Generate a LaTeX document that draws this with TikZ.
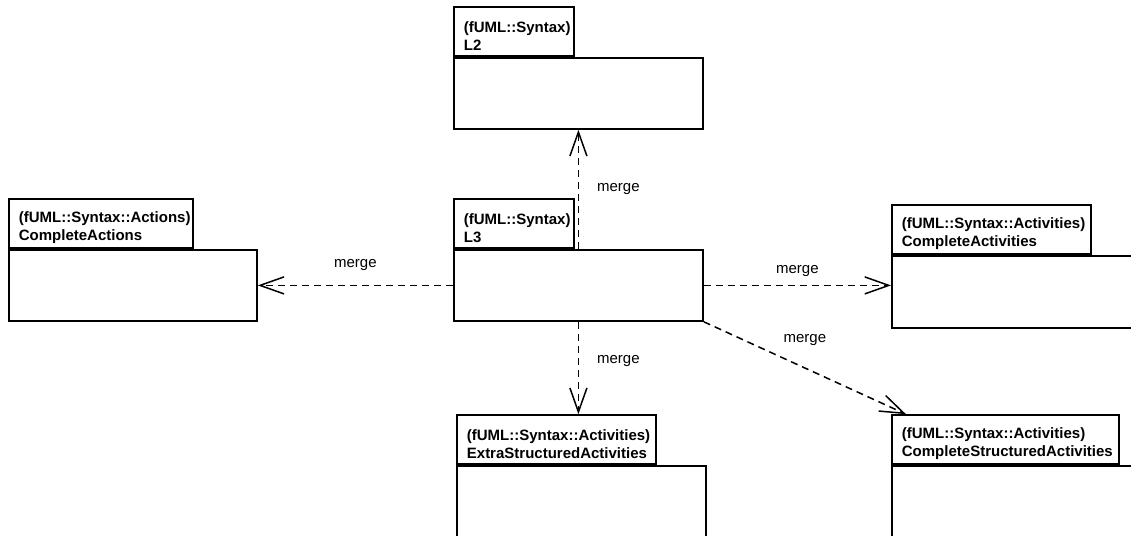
\documentclass[tikz,border=0pt]{standalone}
\usepackage{fontspec}
\setmainfont{Liberation Sans}
\usetikzlibrary{arrows.meta,calc}
\tikzset{
  pkgbody/.style={draw,line width=1.8pt,anchor=north west,inner sep=0pt},
  pkgtab/.style={draw,line width=1.8pt,anchor=south west,align=left,inner xsep=10pt,inner ysep=0pt,minimum height=49pt,font=\bfseries\fontsize{15}{18}\selectfont},
  mergedep/.style={line width=1.5pt,dash pattern=on 7pt off 5pt,-{Straight Barb[length=24pt,width=17pt]}},
  mergelbl/.style={font=\fontsize{15}{18}\selectfont,inner sep=2pt}
}
\begin{document}
\begin{tikzpicture}[x=1pt,y=-1pt]
\useasboundingbox(0,0) rectangle (1131,535);
\clip(0,0) rectangle (1131,535);
\foreach \n/\x/\y/\tw/\bw/\bh/\ns/\ttl in {l2/453/57/120/249/71/{(fUML::Syntax)}/L2,
  l3/453/249/120/249/71/{(fUML::Syntax)}/L3,
  cact/8/249/184/248/71/{(fUML::Syntax::Actions)}/CompleteActions,
  cactiv/891/255/199/300/72/{(fUML::Syntax::Activities)}/CompleteActivities,
  xsact/456/465/199/249/100/{(fUML::Syntax::Activities)}/ExtraStructuredActivities,
  csact/891/465/227/300/100/{(fUML::Syntax::Activities)}/CompleteStructuredActivities}{
  \pgfmathsetmacro{\tww}{\tw-20}
  \node[pkgbody,minimum width=\bw,minimum height=\bh](\n) at (\x,\y){};
  \node[pkgtab,text width=\tww pt](\n-tab) at (\n.north west){\rule{0pt}{19pt}\ns\\\ttl};
}
\coordinate(csin) at ($(csact-tab.north west)+(15,0)$);
\draw[mergedep](l3.north)--node[mergelbl,right=16pt]{merge}(l2.south);
\draw[mergedep](l3.west)--node[mergelbl,above=12pt]{merge}(cact.east);
\draw[mergedep](l3.east)--node[mergelbl,above=6pt]{merge}(l3.east -| cactiv.west);
\draw[mergedep](l3.south)--node[mergelbl,pos=0.42,right=16pt]{merge}(l3.south |- xsact-tab.north);
\draw[mergedep](l3.south east)--node[mergelbl,above=20pt]{merge}(csin);
\end{tikzpicture}
\end{document}
